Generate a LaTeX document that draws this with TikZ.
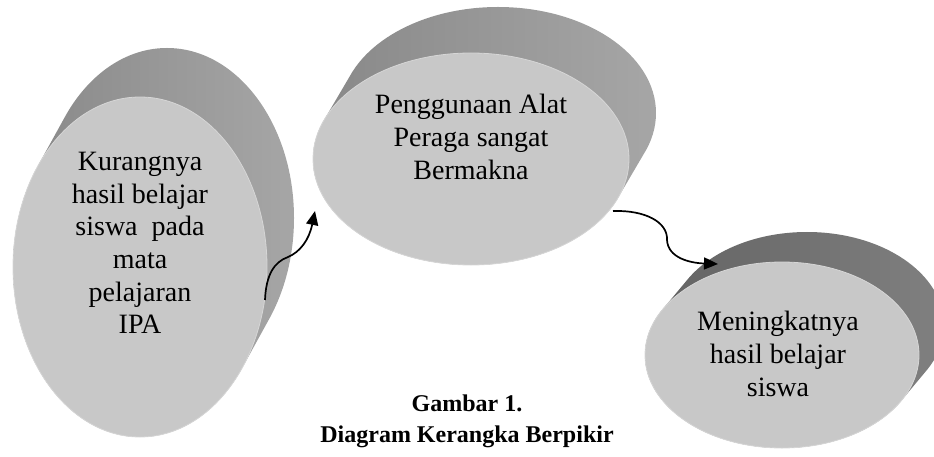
\documentclass[tikz,border=0pt]{standalone}
\usepackage{fontspec}
\setmainfont{Liberation Serif}
\usetikzlibrary{arrows.meta}
\definecolor{facegray}{RGB}{200,200,200}
\definecolor{rimgray}{RGB}{214,214,214}
\definecolor{extA}{RGB}{136,136,136}
\definecolor{extB}{RGB}{166,166,166}
\definecolor{extC}{RGB}{98,98,98}
\definecolor{extD}{RGB}{128,128,128}
\tikzset{
  face/.style={fill=facegray, draw=rimgray, line width=0.8pt},
  txt/.style={align=center, inner sep=0pt, font=\fontsize{28}{32.6}\selectfont},
  captxt/.style={align=center, inner sep=0pt, font=\fontsize{24}{31}\selectfont\bfseries},
  conn/.style={line width=1.7pt, -{Triangle[length=14pt,width=12pt]}}
}
\begin{document}
\begin{tikzpicture}[x=1pt,y=-1pt]
\useasboundingbox (0,0) rectangle (934,457);
\clip (0,0) rectangle (934,457);
% left cylinder
\shade[left color=extA, right color=extB]
  \foreach \t in {0,0.05,...,1.001} {({140+27*\t},{267-49*\t}) ellipse [x radius=127, y radius=170]};
\path[face] (140,267) ellipse [x radius=127, y radius=170];
% middle cylinder
\shade[left color=extA, right color=extB]
  \foreach \t in {0,0.05,...,1.001} {({471+27*\t},{159-46*\t}) ellipse [x radius=158, y radius=106]};
\path[face] (471,159) ellipse [x radius=158, y radius=106];
% right cylinder
\shade[left color=extC, right color=extD]
  \foreach \t in {0,0.05,...,1.001} {({782+25*\t},{355-30*\t}) ellipse [x radius=137, y radius=93]};
\path[face] (782,355) ellipse [x radius=137, y radius=93];
% texts
\node[txt] (n1) at (140,243) {Kurangnya\\hasil belajar\\siswa~ pada\\mata\\pelajaran\\IPA};
\node[txt] (n2) at (471,137) {Penggunaan Alat\\Peraga sangat\\Bermakna};
\node[txt] (n3) at (778,354) {Meningkatnya\\hasil belajar\\siswa};
\node[captxt] (cap) at (467,421) {Gambar 1.\\Diagram Kerangka Berpikir};
% connectors
\coordinate (a1s) at (265,300);
\coordinate (a1e) at (315,211);
\coordinate (a2s) at (613,211);
\coordinate (a2e) at (718,264);
\draw[conn] (a1s) .. controls (266,275) and (274,262) .. (288,257)
  .. controls (300,252) and (309,240) .. (a1e);
\draw[conn] (a2s) .. controls (645,210) and (668,222) .. (667,240)
  .. controls (668,258) and (690,263) .. (a2e);
\end{tikzpicture}
\end{document}
